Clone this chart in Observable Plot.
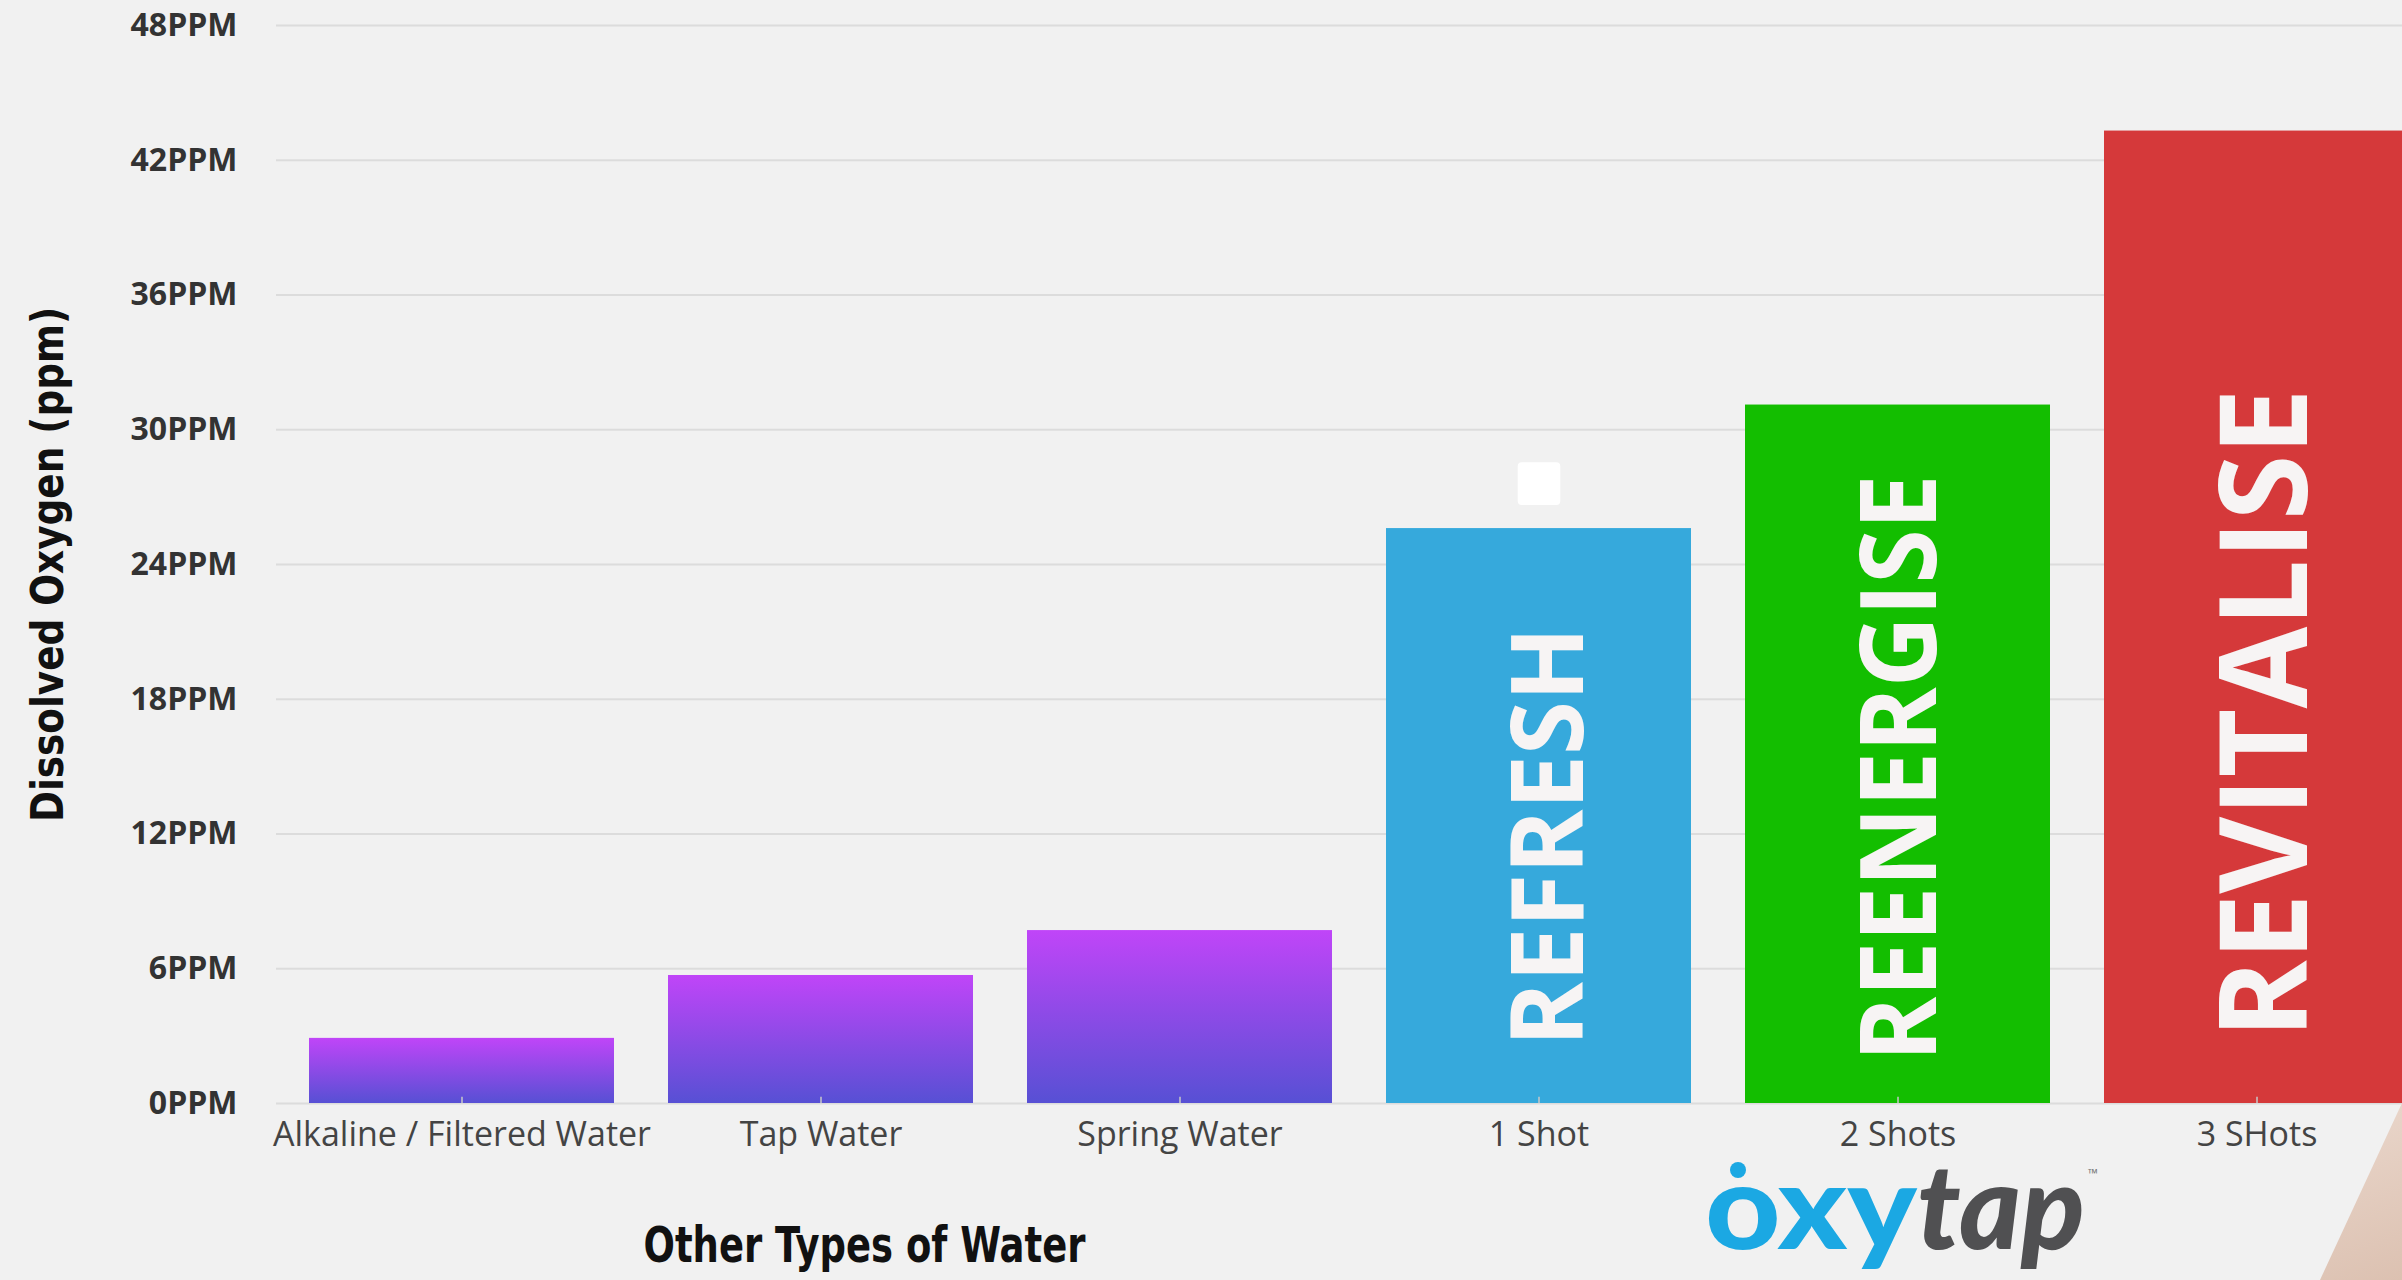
<!DOCTYPE html>
<html><head><meta charset="utf-8">
<script src="https://cdn.jsdelivr.net/npm/d3@7"></script>
<script src="https://cdn.jsdelivr.net/npm/@observablehq/plot@0.6"></script>
<style>
html,body{margin:0;padding:0;background:#f1f1f1;overflow:hidden;}
#wrap{position:relative;width:2402px;height:1280px;overflow:hidden;background:#f1f1f1;}
#wrap > svg.plotsvg{position:absolute;left:0;top:0;}
#peach{position:absolute;left:2300px;top:1100px;width:102px;height:180px;background:linear-gradient(160deg,#ebd9ce,#dcc1b1);clip-path:polygon(100% 1.7%,100% 100%,19.6% 100%);}
#logo{position:absolute;left:1690px;top:1150px;}
</style></head><body><div id="wrap"></div>
<script>
// ---- data ----
const categories = ["Alkaline / Filtered Water", "Tap Water", "Spring Water", "1 Shot", "2 Shots", "3 SHots"];
const values = [2.9, 5.7, 7.7, 25.6, 31.1, 43.3];
const barFills = ["url(#purpleGrad)", "url(#purpleGrad)", "url(#purpleGrad)", "#36a9dc", "#13be00", "#d5393a"];
const yTicks = [0, 6, 12, 18, 24, 30, 36, 42, 48];
const shotCategories = ["1 Shot", "2 Shots", "3 SHots"];
const shotLabels = ["REFRESH", "REENERGISE", "REVITALISE"];
const markerCategory = ["1 Shot"];
const markerValue = [27.6];
const yTitle = "Dissolved Oxygen (ppm)";
const xTitle = "Other Types of Water";

const rows = categories.map((c, i) => ({category: c, value: values[i], fill: barFills[i]}));
const markers = markerCategory.map((c, i) => ({category: c, value: markerValue[i]}));

// styling for the in-bar labels
const labelStyle = [
  {fontSize: 100, dx: 12, dy: -57, len: 420},
  {fontSize: 106, dx: 4, dy: -42, len: 587},
  {fontSize: 122, dx: 11, dy: -65, len: 650}
];

const condensed = "'Liberation Sans Narrow','DejaVu Sans Condensed','Open Sans',sans-serif";
const yTitleLen = 515, xTitleLen = 442;

const labelMarks = shotLabels.map((lab, i) => Plot.text([{category: shotCategories[i], label: lab}], {
  x: "category", y: () => 0, text: "label", rotate: -90, textAnchor: "start", lineAnchor: "middle",
  fontSize: labelStyle[i].fontSize, fontWeight: 700, fill: "#f7f4f4", dx: labelStyle[i].dx, dy: labelStyle[i].dy,
  fontFamily: "'Open Sans', sans-serif"
}));

const chart = Plot.plot({
  width: 2402, height: 1280,
  marginLeft: 276, marginRight: 0, marginTop: 25, marginBottom: 177,
  style: {background: "#f1f1f1", fontFamily: "'Open Sans', sans-serif", color: "#333"},
  x: {domain: categories, range: [254, 2464], padding: 0.15, label: null},
  y: {domain: [0, 48], ticks: yTicks, label: null},
  color: {type: "identity"},
  marks: [
    Plot.gridY(yTicks, {stroke: "#dcdcdc", strokeWidth: 2, strokeOpacity: 1}),
    Plot.barY(rows, {x: "category", y: "value", fill: "fill"}),
    Plot.ruleX(categories, {x: d => d, y1: () => 0, y2: () => 0.28, stroke: "#c9c9c9", strokeWidth: 1.5}),
    Plot.dot(markers, {x: "category", y: "value", symbol: "square", r: 19.5, fill: "white", stroke: "white", strokeWidth: 8, strokeLinejoin: "round"}),
    ...labelMarks,
    Plot.axisY(yTicks, {tickSize: 0, tickPadding: 39, tickFormat: d => d + "PPM", fontSize: 32, fontWeight: 700, fill: "#333"}),
    Plot.axisX({tickSize: 0, tickPadding: 18, fontSize: 34, fill: "#444", label: null}),
    Plot.text([yTitle], {frameAnchor: "left", dx: -228, dy: yTitleLen / 2, rotate: -90, textAnchor: "start", text: d => d, fontSize: 44, fontWeight: 700, fill: "#111", fontFamily: condensed}),
    Plot.text([xTitle], {frameAnchor: "bottom-left", dx: 588 - xTitleLen / 2, dy: 158, textAnchor: "start", text: d => d, fontSize: 50, fontWeight: 700, fill: "#111", fontFamily: condensed})
  ]
});
chart.classList.add("plotsvg");

// gradient defs for the purple bars
const svg = d3.select(chart);
const defs = svg.insert("defs", ":first-child");
const g = defs.append("linearGradient").attr("id", "purpleGrad").attr("x1", 0).attr("y1", 0).attr("x2", 0).attr("y2", 1);
g.append("stop").attr("offset", "0%").attr("stop-color", "#c045f8");
g.append("stop").attr("offset", "100%").attr("stop-color", "#5750d4");

// fit text lengths
const lengths = {};
shotLabels.forEach((l, i) => lengths[l] = labelStyle[i].len);
lengths[yTitle] = yTitleLen;
lengths[xTitle] = xTitleLen;
svg.selectAll("text").each(function() {
  const t = this.textContent;
  if (lengths[t]) {
    this.setAttribute("textLength", lengths[t]);
    this.setAttribute("lengthAdjust", "spacingAndGlyphs");
  }
});

const wrap = document.getElementById("wrap");
wrap.appendChild(chart);

const peach = document.createElement("div");
peach.id = "peach";
wrap.appendChild(peach);

// logo
const logo = document.createElement("div");
logo.id = "logo";
logo.innerHTML = `<svg width="460" height="130" xmlns="http://www.w3.org/2000/svg">
  <circle cx="48" cy="20" r="8" fill="#1ba8e3"/>
  <text x="15" y="99" font-family="Lato, 'Open Sans', sans-serif" font-weight="900" font-size="118">
    <tspan fill="#1ba8e3" textLength="212" lengthAdjust="spacingAndGlyphs">oxy</tspan><tspan fill="#505052" font-style="italic" textLength="168" lengthAdjust="spacingAndGlyphs">tap</tspan>
  </text>
  <text x="398" y="28" font-family="'Open Sans', sans-serif" font-size="13" fill="#777">™</text>
</svg>`;
wrap.appendChild(logo);
</script></body></html>
